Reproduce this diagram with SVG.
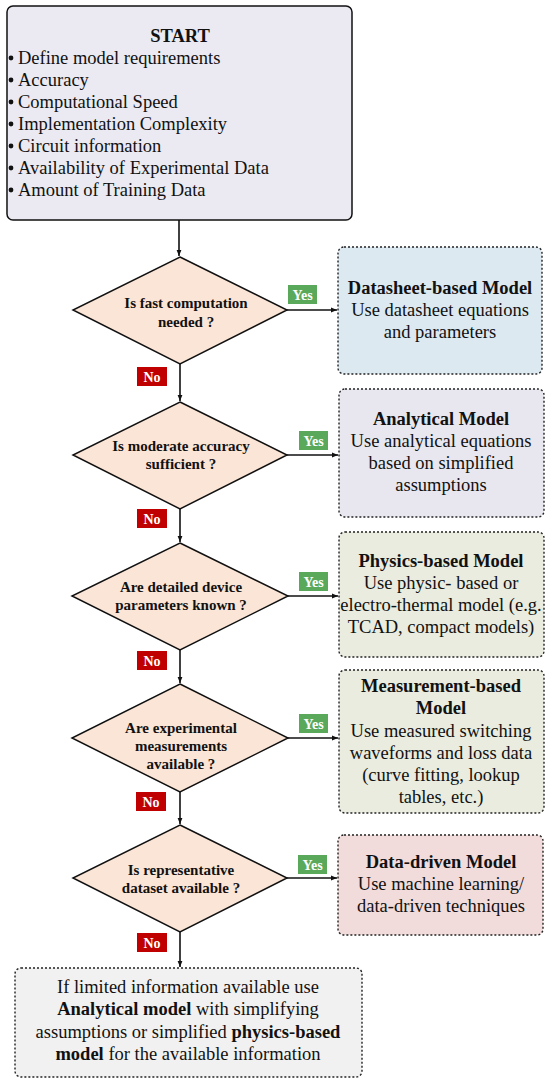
<svg xmlns="http://www.w3.org/2000/svg" width="550" height="1083" viewBox="0 0 550 1083">
<style>
.t{font-family:"Liberation Serif","Times New Roman",serif;fill:#111}
.box{font-size:18.5px;text-anchor:middle}
.b{font-weight:bold}
.q{font-size:15px;font-weight:bold;text-anchor:middle}
.dia{fill:#fbe5d6;stroke:#111;stroke-width:1.5}
.mb{stroke:#222;stroke-width:1.4;stroke-dasharray:2 2}
.con{stroke:#111;stroke-width:1.6;fill:none}
.lab{font-family:"Liberation Serif","Times New Roman",serif;font-size:14px;font-weight:bold;fill:#fff;text-anchor:middle}
</style>
<defs>
<marker id="ah" viewBox="0 0 10 10" refX="10" refY="5" markerWidth="6" markerHeight="6" orient="auto" markerUnits="userSpaceOnUse">
<path d="M0,1 L10,5 L0,9 z" fill="#111"/>
</marker>
</defs>
<rect width="550" height="1083" fill="#fff"/>

<g id="connectors">
<line class="con" x1="179" y1="220" x2="179" y2="256" marker-end="url(#ah)"/>
<line class="con" x1="180" y1="364" x2="180" y2="401" marker-end="url(#ah)"/>
<line class="con" x1="180" y1="509" x2="180" y2="542" marker-end="url(#ah)"/>
<line class="con" x1="180" y1="650" x2="180" y2="683" marker-end="url(#ah)"/>
<line class="con" x1="180" y1="792" x2="180" y2="824" marker-end="url(#ah)"/>
<line class="con" x1="180" y1="932" x2="180" y2="967" marker-end="url(#ah)"/>
<line class="con" x1="287" y1="310" x2="337" y2="310" marker-end="url(#ah)"/>
<line class="con" x1="287" y1="455" x2="338" y2="455" marker-end="url(#ah)"/>
<line class="con" x1="287" y1="596" x2="338" y2="596" marker-end="url(#ah)"/>
<line class="con" x1="287" y1="738" x2="338" y2="738" marker-end="url(#ah)"/>
<line class="con" x1="287" y1="878" x2="337" y2="878" marker-end="url(#ah)"/>
<g id="labels">
<rect x="288" y="285" width="29" height="19" fill="#5aa85a"/><text class="lab" x="302.5" y="299.5">Yes</text>
<rect x="299" y="431" width="29" height="19" fill="#5aa85a"/><text class="lab" x="313.5" y="445.5">Yes</text>
<rect x="299" y="572" width="29" height="19" fill="#5aa85a"/><text class="lab" x="313.5" y="586.5">Yes</text>
<rect x="299" y="714" width="29" height="19" fill="#5aa85a"/><text class="lab" x="313.5" y="728.5">Yes</text>
<rect x="298" y="855" width="29" height="19" fill="#5aa85a"/><text class="lab" x="312.5" y="869.5">Yes</text>
<rect x="137" y="367" width="30" height="19" fill="#c00000"/><text class="lab" x="152" y="381.5">No</text>
<rect x="137" y="509" width="30" height="19" fill="#c00000"/><text class="lab" x="152" y="523.5">No</text>
<rect x="137" y="651" width="30" height="19" fill="#c00000"/><text class="lab" x="152" y="665.5">No</text>
<rect x="136" y="792" width="30" height="19" fill="#c00000"/><text class="lab" x="151" y="806.5">No</text>
<rect x="137" y="933" width="30" height="19" fill="#c00000"/><text class="lab" x="152" y="947.5">No</text>
</g>
</g>

<g id="start">
<rect x="7" y="6" width="345" height="214" rx="6" fill="#ebeaf2" stroke="#111" stroke-width="1.5"/>
<text class="t b" x="180" y="42" font-size="18.5" text-anchor="middle">START</text>
<g fill="#111">
<circle cx="11" cy="58" r="2.4"/><circle cx="11" cy="80" r="2.4"/><circle cx="11" cy="102" r="2.4"/><circle cx="11" cy="124" r="2.4"/><circle cx="11" cy="146" r="2.4"/><circle cx="11" cy="168" r="2.4"/><circle cx="11" cy="190" r="2.4"/>
</g>
<g class="t" font-size="18.5">
<text x="18" y="64">Define model requirements</text>
<text x="18" y="86">Accuracy</text>
<text x="18" y="108">Computational Speed</text>
<text x="18" y="130">Implementation Complexity</text>
<text x="18" y="152">Circuit information</text>
<text x="18" y="174">Availability of Experimental Data</text>
<text x="18" y="196">Amount of Training Data</text>
</g>
</g>

<g id="q1">
<polygon class="dia" points="180,257 287,310 180,364 73,310"/>
<text class="t q" x="186" y="308">Is fast computation</text>
<text class="t q" x="186" y="327">needed ?</text>
</g>
<g id="q2">
<polygon class="dia" points="180,402 287,455 180,509 73,455"/>
<text class="t q" x="181" y="451">Is moderate accuracy</text>
<text class="t q" x="181" y="469">sufficient ?</text>
</g>
<g id="q3">
<polygon class="dia" points="180,543 288,596 180,650 72,596"/>
<text class="t q" x="181" y="592">Are detailed device</text>
<text class="t q" x="181" y="610">parameters known ?</text>
</g>
<g id="q4">
<polygon class="dia" points="180,684 288,738 180,792 72,738"/>
<text class="t q" x="181" y="733">Are experimental</text>
<text class="t q" x="181" y="751">measurements</text>
<text class="t q" x="181" y="769">available ?</text>
</g>
<g id="q5">
<polygon class="dia" points="180,825 287,878 180,932 73,878"/>
<text class="t q" x="181" y="875">Is representative</text>
<text class="t q" x="181" y="893">dataset available ?</text>
</g>

<g id="datasheet">
<rect class="mb" x="338" y="247" width="204" height="127" rx="6" fill="#dce9f1"/>
<text class="t box b" x="440" y="294">Datasheet-based Model</text>
<text class="t box" x="440" y="316">Use datasheet equations</text>
<text class="t box" x="440" y="338">and parameters</text>
</g>
<g id="analytical">
<rect class="mb" x="339" y="389" width="205" height="128" rx="6" fill="#e8e7f0"/>
<text class="t box b" x="441" y="425">Analytical Model</text>
<text class="t box" x="441" y="447">Use analytical equations</text>
<text class="t box" x="441" y="469">based on simplified</text>
<text class="t box" x="441" y="491">assumptions</text>
</g>
<g id="physics">
<rect class="mb" x="339" y="532" width="205" height="125" rx="6" fill="#e9ecdf"/>
<text class="t box b" x="441" y="567">Physics-based Model</text>
<text class="t box" x="441" y="589">Use physic- based or</text>
<text class="t box" x="441" y="611">electro-thermal model (e.g.</text>
<text class="t box" x="441" y="633">TCAD, compact models)</text>
</g>
<g id="measurement">
<rect class="mb" x="339" y="670" width="205" height="143" rx="6" fill="#e9ecdf"/>
<text class="t box b" x="441" y="692">Measurement-based</text>
<text class="t box b" x="441" y="714">Model</text>
<text class="t box" x="441" y="737">Use measured switching</text>
<text class="t box" x="441" y="759">waveforms and loss data</text>
<text class="t box" x="441" y="781">(curve fitting, lookup</text>
<text class="t box" x="441" y="803">tables, etc.)</text>
</g>
<g id="datadriven">
<rect class="mb" x="338" y="835" width="205" height="100" rx="6" fill="#f2dcdb"/>
<text class="t box b" x="441" y="868">Data-driven Model</text>
<text class="t box" x="441" y="890">Use machine learning/</text>
<text class="t box" x="441" y="912">data-driven techniques</text>
</g>
<g id="final">
<rect class="mb" x="15" y="968" width="347" height="109" rx="6" fill="#f1f1f1"/>
<text class="t box" x="188" y="993">If limited information available use</text>
<text class="t box" x="188" y="1015"><tspan font-weight="bold">Analytical model</tspan> with simplifying</text>
<text class="t box" x="188" y="1038">assumptions or simplified <tspan font-weight="bold">physics-based</tspan></text>
<text class="t box" x="188" y="1060"><tspan font-weight="bold">model</tspan> for the available information</text>
</g>
</svg>
